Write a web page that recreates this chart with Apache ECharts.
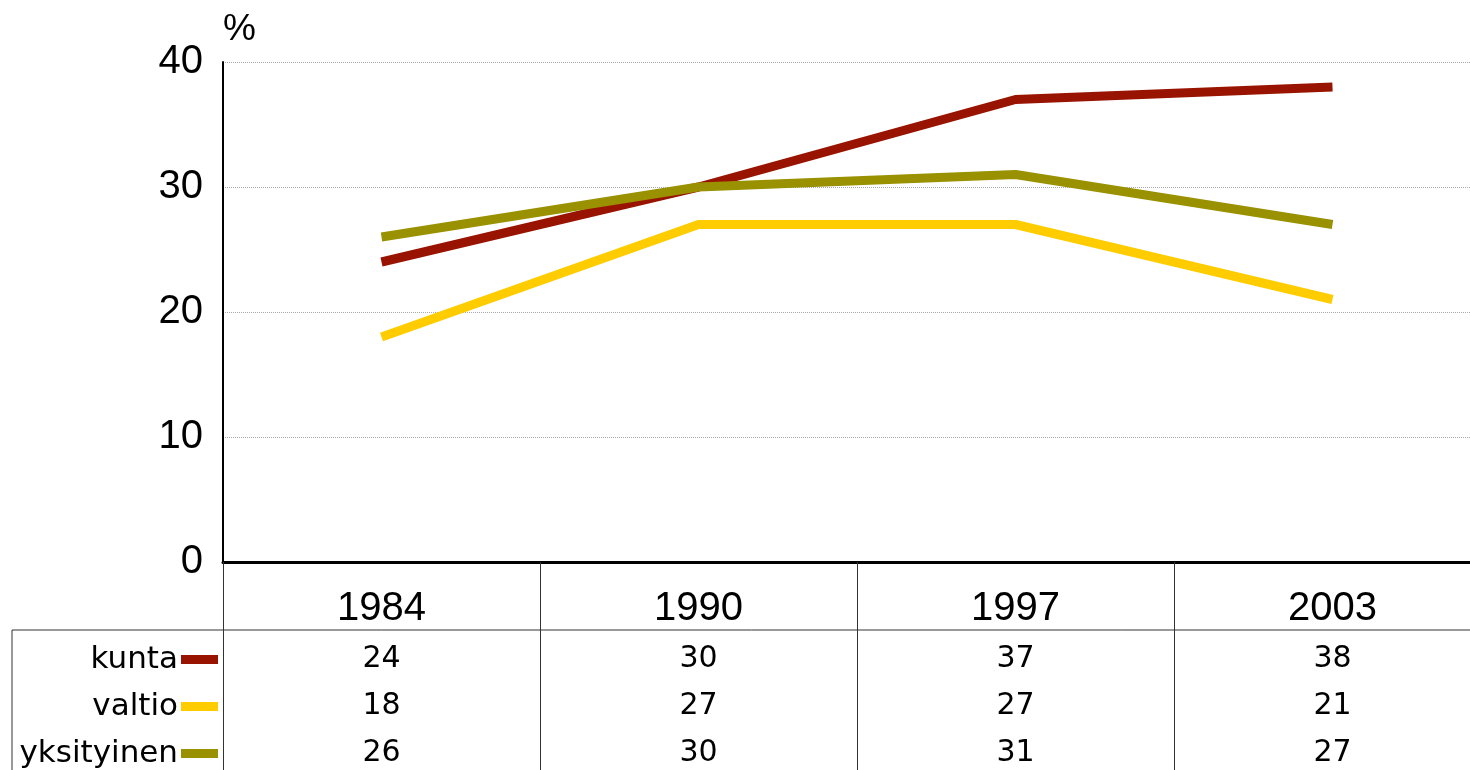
<!DOCTYPE html>
<html>
<head>
<meta charset="utf-8">
<script src="https://cdn.jsdelivr.net/npm/echarts@6/dist/echarts.min.js"></script>
<style>
  html, body { margin: 0; padding: 0; background: #fff; overflow: hidden; }
  #container { width: 1491px; height: 770px; }
</style>
</head>
<body>
<div id="container"></div>
<script>
var years = ['1984', '1990', '1997', '2003'];
var kunta = [24, 30, 37, 38];
var valtio = [18, 27, 27, 21];
var yksityinen = [26, 30, 31, 27];
var seriesNames = ['kunta', 'valtio', 'yksityinen'];
var yTicks = [0, 10, 20, 30, 40];

var dom = document.getElementById('container');
var myChart = echarts.init(dom);

// year + data table values under each category
function tableLabel(value, idx) {
    return '{y|' + value + '}\n{v|' + kunta[idx] + '}\n{v|' + valtio[idx] + '}\n{v|' + yksityinen[idx] + '}';
}

// one legend per table row, so each sits next to its own row
var rowTops = [639, 686, 733];
var legends = seriesNames.map(function (name, i) {
    return {
        data: [name],
        right: 1268,
        top: rowTops[i],
        align: 'right',
        icon: 'rect',
        itemWidth: 37,
        itemHeight: 9,
        selectedMode: false,
        textStyle: {
            fontFamily: 'DejaVu Sans',
            fontSize: 31,
            lineHeight: 30,
            color: '#000',
            padding: [0, -2, 0, 0]
        }
    };
});

var option = {
    animation: false,
    color: ['#991400', '#FFCC00', '#999100'],
    grid: {
        left: 223,
        right: 0,
        top: 62,
        bottom: 208
    },
    legend: legends,
    xAxis: {
        type: 'category',
        data: years,
        boundaryGap: true,
        axisLine: { lineStyle: { color: '#000', width: 3 } },
        axisTick: {
            show: true,
            length: 208,
            interval: 0,
            lineStyle: { color: '#333', width: 1 }
        },
        axisLabel: {
            interval: 0,
            margin: 20,
            color: '#000',
            formatter: tableLabel,
            rich: {
                y: { fontFamily: 'Liberation Sans', fontSize: 40, lineHeight: 54, color: '#000' },
                v: { fontFamily: 'DejaVu Sans', fontSize: 30, lineHeight: 47, color: '#000' }
            }
        }
    },
    yAxis: {
        type: 'value',
        min: yTicks[0],
        max: yTicks[yTicks.length - 1],
        interval: 10,
        name: '%',
        nameLocation: 'end',
        nameGap: 14,
        nameTextStyle: {
            fontFamily: 'Liberation Sans',
            fontSize: 37,
            color: '#000',
            align: 'left'
        },
        axisLine: { show: true, lineStyle: { color: '#000', width: 2 } },
        axisTick: { show: false },
        axisLabel: {
            margin: 20,
            fontFamily: 'Liberation Sans',
            fontSize: 40,
            color: '#000'
        },
        splitLine: {
            show: true,
            lineStyle: { color: '#aaa', width: 1, type: 'dotted' }
        }
    },
    graphic: [
        {
            type: 'line',
            shape: { x1: 12, y1: 630, x2: 1491, y2: 630 },
            style: { stroke: '#333', lineWidth: 1 }
        },
        {
            type: 'line',
            shape: { x1: 12, y1: 630, x2: 12, y2: 770 },
            style: { stroke: '#333', lineWidth: 1 }
        }
    ],
    series: [
        {
            name: 'kunta',
            type: 'line',
            data: kunta,
            symbol: 'none',
            lineStyle: { width: 9, cap: 'butt' }
        },
        {
            name: 'valtio',
            type: 'line',
            data: valtio,
            symbol: 'none',
            lineStyle: { width: 9, cap: 'butt' }
        },
        {
            name: 'yksityinen',
            type: 'line',
            data: yksityinen,
            symbol: 'none',
            lineStyle: { width: 9, cap: 'butt' }
        }
    ]
};

myChart.setOption(option);
</script>
</body>
</html>
